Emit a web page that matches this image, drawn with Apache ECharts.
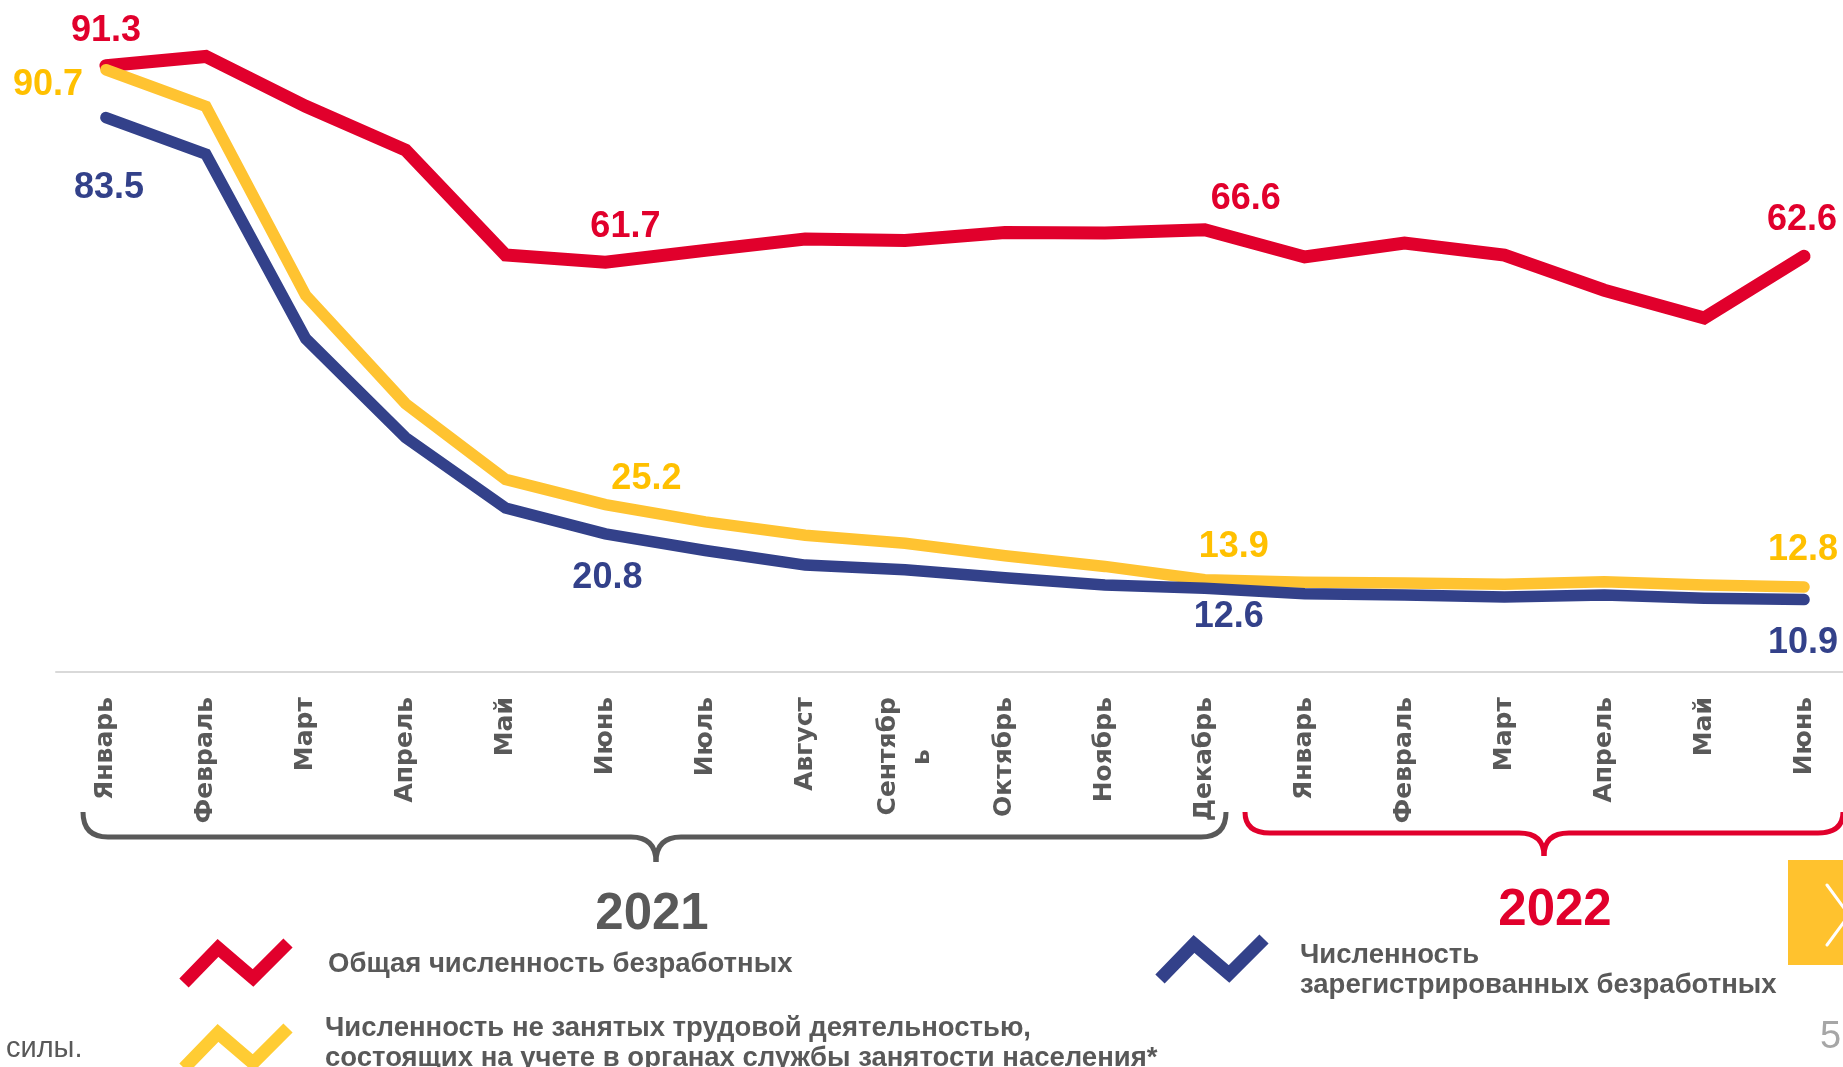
<!DOCTYPE html>
<html>
<head>
<meta charset="utf-8">
<title>Безработица</title>
<script src="https://cdn.jsdelivr.net/npm/echarts@6/dist/echarts.min.js"></script>
<style>
  html, body { margin: 0; padding: 0; background: #fff; }
  #chart { width: 1843px; height: 1067px; }
</style>
</head>
<body>
<div id="chart"></div>
<script>
// категории
const months = ['Январь','Февраль','Март','Апрель','Май','Июнь','Июль','Август','Сентябрь','Октябрь','Ноябрь','Декабрь',
  'Январь','Февраль','Март','Апрель','Май','Июнь']

// данные, тыс. чел.
const totalUnemployed = [91.3, 92.7, 85.2, 78.6, 62.8, 61.7, 63.5, 65.2, 65.0, 66.2, 66.1, 66.6, 62.5, 64.6, 62.8, 57.5, 53.3, 62.6]
const notEmployed = [90.7, 85.2, 56.7, 40.4, 29.0, 25.2, 22.6, 20.6, 19.4, 17.5, 15.9, 13.9, 13.5, 13.4, 13.2, 13.6, 13.1, 12.8]
const registered = [83.5, 78.0, 50.2, 35.3, 24.7, 20.8, 18.3, 16.1, 15.4, 14.2, 13.1, 12.6, 11.8, 11.6, 11.3, 11.6, 11.1, 10.9]

const RED = '#E1002C'
const YELLOW = '#FFC331'
const YELLOW_TXT = '#FFC000'
const BLUE = '#33418A'
const GRAY = '#595959'
const FONT = '"Liberation Sans", Arial, sans-serif'
const NBSP = '\u00a0'

// подписи значений (индекс точки -> смещение подписи)
const redLabels = { 0: [0, -35], 5: [20, -35], 11: [41, -31], 17: [-2, -36] }
const yellowLabels = { 0: [-58, 15], 5: [41, -26], 11: [29, -33], 17: [-1, -37] }
const blueLabels = { 0: [3, 71], 5: [2, 44], 11: [24, 29], 17: [-1, 43] }

const chart = echarts.init(document.getElementById('chart'))

const withLabels = (values, labels) => values.map((v, i) =>
  labels[i] ? { value: v, label: { show: true, offset: labels[i] } } : v)

const lineSeries = (name, values, labels, color, txtColor, width, z) => ({
  name: name,
  type: 'line',
  data: withLabels(values, labels),
  symbol: 'circle',
  symbolSize: 0,
  showAllSymbol: true,
  z: z,
  lineStyle: { color: color, width: width, join: 'miter', cap: 'round' },
  itemStyle: { color: color },
  label: {
    show: false,
    position: 'inside',
    formatter: '{c}',
    color: txtColor,
    fontSize: 36,
    fontWeight: 'bold',
    fontFamily: FONT
  },
  emphasis: { disabled: true }
})

// фигурная скобка: левый край, правый край, центр, верх, горизонталь, низ
const brace = (x1, x2, xm, yTop, yMid, yTip, color) => {
  const r = 25
  const st = { stroke: color, lineWidth: 5, fill: null }
  return [
    { type: 'bezierCurve', shape: { x1: x1, y1: yTop, cpx1: x1, cpy1: yMid, x2: x1 + r, y2: yMid }, style: st },
    { type: 'line', shape: { x1: x1 + r, y1: yMid, x2: xm - r, y2: yMid }, style: st },
    { type: 'bezierCurve', shape: { x1: xm - r, y1: yMid, cpx1: xm, cpy1: yMid, x2: xm, y2: yTip }, style: st },
    { type: 'bezierCurve', shape: { x1: xm, y1: yTip, cpx1: xm, cpy1: yMid, x2: xm + r, y2: yMid }, style: st },
    { type: 'line', shape: { x1: xm + r, y1: yMid, x2: x2 - r, y2: yMid }, style: st },
    { type: 'bezierCurve', shape: { x1: x2 - r, y1: yMid, cpx1: x2, cpy1: yMid, x2: x2, y2: yTop }, style: st }
  ]
}

const zigzag = (x, y, color) => ({
  type: 'polyline',
  shape: { points: [[x, y + 41], [x + 34, y + 6], [x + 69, y + 36], [x + 104, y + 1]] },
  style: { stroke: color, lineWidth: 13, fill: null, lineJoin: 'miter', lineCap: 'butt' }
})

const text = (str, x, y, font, color, align) => ({
  type: 'text',
  x: x,
  y: y,
  style: {
    text: str,
    fill: color || GRAY,
    font: font || ('bold 27.5px ' + FONT),
    align: align || 'left',
    verticalAlign: 'middle',
    lineHeight: 30
  }
})

const graphics = [].concat(
  brace(83, 1226, 656, 812, 837, 862, GRAY),
  brace(1245, 1843, 1544, 812, 833, 856, RED),
  [
    text('2021', 652, 915, 'bold 51px ' + FONT, GRAY, 'center'),
    text('2022', 1555, 911, 'bold 51px ' + FONT, RED, 'center'),
    // легенда
    zigzag(184, 942, RED),
    text('Общая численность безработных', 328, 964),
    zigzag(184, 1027, '#FFCC33'),
    text('Численность не занятых трудовой деятельностью,\nсостоящих на учете в органах службы занятости населения*', 325, 1043),
    zigzag(1160, 938, BLUE),
    text('Численность\nзарегистрированных безработных', 1300, 970),
    // прочее
    text('силы.', 6, 1049, '29px ' + FONT),
    text('5', 1820, 1038, '38px ' + FONT, '#A6A6A6'),
    { type: 'rect', shape: { x: 1788, y: 860, width: 60, height: 105 }, style: { fill: '#FFC22E' } },
    {
      type: 'polyline',
      shape: { points: [[1827, 885], [1849, 915], [1827, 945]] },
      style: { stroke: '#fff', lineWidth: 3, fill: null, lineCap: 'round' }
    }
  ]
)

// «Сентябрь» переносится на две строки, «ь» по центру
const monthLabel = (v) => v === 'Сентябрь' ? 'Сентябр\nь' + NBSP.repeat(6) : v

const option = {
  backgroundColor: '#fff',
  animation: false,
  grid: { left: 56, right: -11, top: 8, bottom: 395, outerBoundsMode: 'none' },
  xAxis: {
    type: 'category',
    data: months,
    boundaryGap: true,
    axisLine: { lineStyle: { color: '#D9D9D9', width: 2 } },
    axisTick: { show: false },
    axisLabel: {
      interval: 0,
      rotate: 90,
      margin: 25,
      color: GRAY,
      fontSize: 25,
      fontWeight: 'bold',
      fontFamily: '"DejaVu Sans", sans-serif',
      lineHeight: 34,
      formatter: monthLabel
    }
  },
  yAxis: {
    type: 'value',
    min: 0,
    max: 100,
    show: false,
    splitLine: { show: false }
  },
  series: [
    lineSeries('Общая численность безработных', totalUnemployed, redLabels, RED, RED, 13, 2),
    lineSeries('Численность не занятых', notEmployed, yellowLabels, YELLOW, YELLOW_TXT, 11.5, 3),
    lineSeries('Численность зарегистрированных безработных', registered, blueLabels, BLUE, BLUE, 11.5, 4)
  ],
  graphic: graphics
}

chart.setOption(option)
</script>
</body>
</html>
